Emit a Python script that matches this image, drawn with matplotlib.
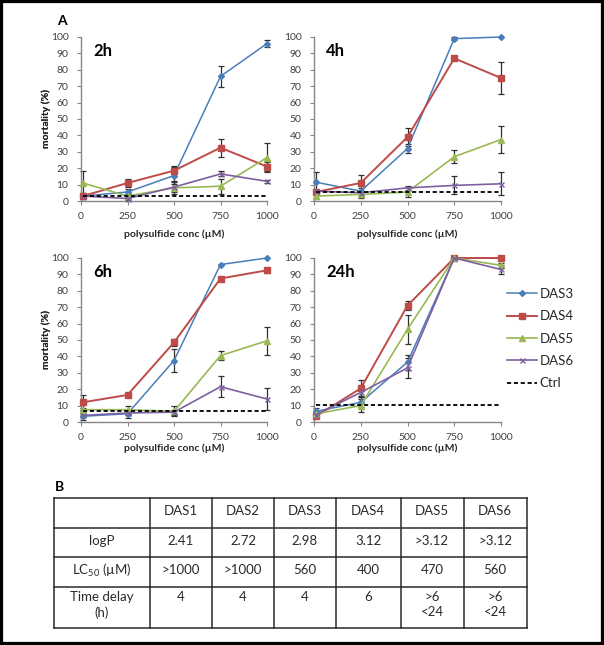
import numpy as np
import matplotlib
matplotlib.use('Agg')
from matplotlib import pyplot as plt
from matplotlib.lines import Line2D

plt.rcParams['font.family'] = ['Lato', 'DejaVu Sans']
plt.rcParams['mathtext.fontset'] = 'custom'
plt.rcParams['mathtext.rm'] = 'Lato'
plt.rcParams['mathtext.default'] = 'regular'

# ---- data (panel A) ----
conc = [10, 250, 500, 750, 1000]
series = ['DAS3', 'DAS4', 'DAS5', 'DAS6']
panels = ['2h', '4h', '6h', '24h']

mort_2h = {'DAS3': [3, 5.5, 15.5, 76, 96],
           'DAS4': [3, 11, 18.5, 32.5, 21],
           'DAS5': [11, 3, 8, 9, 26.5],
           'DAS6': [3, 1.5, 8.5, 16.5, 12]}
err_2h = {'DAS3': [1, 2, 5, 6.5, 2],
          'DAS4': [2, 2.5, 3, 5.5, 2.5],
          'DAS5': [7, 1, 4, 4.5, 9],
          'DAS6': [1.5, 1, 3, 1.5, 1]}

mort_4h = {'DAS3': [11.5, 6, 32, 99, 100],
           'DAS4': [5.5, 11, 39, 87, 75],
           'DAS5': [3, 4, 5.5, 27, 37.5],
           'DAS6': [6, 5, 8, 9.5, 10.5]}
err_4h = {'DAS3': [6, 2, 2.5, 1, 0],
          'DAS4': [1.5, 5, 5.5, 1, 10],
          'DAS5': [1.5, 2, 3, 4, 8],
          'DAS6': [1, 1, 1, 5.5, 7]}

mort_6h = {'DAS3': [3.5, 5, 37.5, 96, 100],
           'DAS4': [12, 16.5, 48.5, 87.5, 92.5],
           'DAS5': [7.5, 7.5, 6.5, 40.5, 49.5],
           'DAS6': [4, 5.5, 6, 21.5, 14]}
err_6h = {'DAS3': [2, 2.5, 7, 0.5, 0],
          'DAS4': [4.5, 0.5, 2, 0.5, 1.5],
          'DAS5': [1, 2.5, 3, 2.5, 8.5],
          'DAS6': [1, 1, 1.5, 6.5, 6.5]}

mort_24h = {'DAS3': [6.5, 12, 36.5, 100, 100],
            'DAS4': [3.5, 20.5, 71, 100, 100],
            'DAS5': [5, 10, 56.5, 100, 95.5],
            'DAS6': [4.5, 18, 33, 100, 93]}
err_24h = {'DAS3': [2, 3, 4.5, 0, 0],
           'DAS4': [1, 5, 2.5, 0, 0],
           'DAS5': [1, 4, 9, 0, 1.5],
           'DAS6': [1, 2, 6, 0, 2.5]}

ctrl = {'2h': 3, '4h': 5.5, '6h': 7, '24h': 10.5}

# ---- data (panel B) ----
col_names = ['DAS1', 'DAS2', 'DAS3', 'DAS4', 'DAS5', 'DAS6']
row_names = ['logP', 'LC$_{50}$ (\u00b5M)', 'Time delay\n(h)']
logp = ['2.41', '2.72', '2.98', '3.12', '>3.12', '>3.12']
lc50 = ['>1000', '>1000', '560', '400', '470', '560']
delay = ['4', '4', '4', '6', '>6\n<24', '>6\n<24']

# ---- styles ----
colors = {'DAS3': '#4A7EBB', 'DAS4': '#BE4B48', 'DAS5': '#98B954', 'DAS6': '#7D60A0'}
markers = {'DAS3': 'D', 'DAS4': 's', 'DAS5': '^', 'DAS6': 'x'}
msizes = {'DAS3': 3.0, 'DAS4': 4.0, 'DAS5': 4.2, 'DAS6': 3.6}
lwidths = {'DAS3': 1.1, 'DAS4': 1.4, 'DAS5': 1.2, 'DAS6': 1.2}

W, H = 604, 645
fig = plt.figure(figsize=(W / 100, H / 100), dpi=100)


def px_axes(left, top, right, bottom):
    return fig.add_axes([left / W, 1 - bottom / H, (right - left) / W, (bottom - top) / H])


boxes = {'2h': (81, 37, 267, 201), '4h': (314, 37, 501, 201),
         '6h': (81, 258, 267, 422), '24h': (314, 258, 501, 422)}
xlab_off = {'2h': 33, '4h': 33, '6h': 26, '24h': 26}
data = {'2h': (mort_2h, err_2h), '4h': (mort_4h, err_4h),
        '6h': (mort_6h, err_6h), '24h': (mort_24h, err_24h)}

gray = '#868686'
handles = []
for p in panels:
    l, t, r, b = boxes[p]
    ax = px_axes(l, t, r, b)
    mort, err = data[p]
    x = np.array(conc, dtype=float)
    for s in series:
        y = np.array(mort[s], dtype=float)
        e = np.array(err[s], dtype=float)
        m = e > 0
        ax.errorbar(x[m], y[m], yerr=e[m], fmt='none', ecolor='#303030',
                    elinewidth=0.9, capsize=2.2, capthick=0.9, zorder=2, clip_on=False)
        h, = ax.plot(x, y, color=colors[s], marker=markers[s], ms=msizes[s],
                     lw=lwidths[s], mew=1.0, zorder=3, clip_on=False, label=s)
        if p == panels[0]:
            handles.append(h)
    hc, = ax.plot(x, [ctrl[p]] * len(x), color='black', ls=(0, (2.3, 1.5)),
                  lw=1.3, zorder=4, clip_on=False, label='Ctrl')
    if p == panels[0]:
        handles.append(hc)

    ax.set_xlim(0, 1000)
    ax.set_ylim(0, 100)
    ax.set_xticks([0, 250, 500, 750, 1000])
    ax.set_yticks(range(0, 101, 10))
    for sp in ['top', 'right']:
        ax.spines[sp].set_visible(False)
    for sp in ['left', 'bottom']:
        ax.spines[sp].set_color(gray)
        ax.spines[sp].set_linewidth(1.0)
    ax.tick_params(axis='both', colors=gray, labelcolor='#404040', labelsize=7.5,
                   length=3, width=0.8, direction='out')
    ax.tick_params(axis='x', pad=5)
    ax.tick_params(axis='y', pad=6)

    ax.set_xlabel('polysulfide conc (\u00b5M)', fontsize=7.5, fontweight='bold', color='#262626')
    ax.xaxis.label.set_va('center')
    ax.xaxis.set_label_coords(0.5, -xlab_off[p] / (b - t))
    ax.set_ylabel('mortality (%)', fontsize=7.5, fontweight='bold', color='#262626')
    ax.yaxis.label.set_va('center')
    ax.yaxis.set_label_coords((46 - l) / (r - l), 0.5)

    ax.text(0.065, 0.915, p, transform=ax.transAxes, fontsize=12, fontweight='bold',
            ha='left', va='center')

fig.legend(handles=handles, labels=series + ['Ctrl'], loc='upper left',
           bbox_to_anchor=(507 / W, 1 - 288 / H), frameon=False, fontsize=9.5,
           handlelength=2.3, handletextpad=0.15, labelspacing=0.78,
           borderpad=0, borderaxespad=0, labelcolor='#262626')

# ---- overlay axes in pixel coords for labels and table ----
ov = fig.add_axes([0, 0, 1, 1])
ov.set_xlim(0, W)
ov.set_ylim(H, 0)
ov.axis('off')

ov.text(62, 21, 'A', fontsize=10, fontweight='bold', ha='center', va='center')
ov.text(60, 487, 'B', fontsize=10, fontweight='bold', ha='center', va='center')

col_edges = [54, 149.5, 212, 274, 336, 400.5, 463.5, 527]
row_edges = [497.7, 528.3, 557.3, 586.7, 628.3]

for xe in col_edges:
    ov.add_line(Line2D([xe, xe], [row_edges[0], row_edges[-1]], color='#2a2a2a', lw=1.1))
for ye in row_edges:
    ov.add_line(Line2D([col_edges[0], col_edges[-1]], [ye, ye], color='#2a2a2a', lw=1.1))

tfs = 9.5
tcol = '#2a2a2a'
cx = [(col_edges[i] + col_edges[i + 1]) / 2 for i in range(len(col_edges) - 1)]
ry = [(row_edges[i] + row_edges[i + 1]) / 2 - 2 for i in range(len(row_edges) - 1)]

for j, name in enumerate(col_names):
    ov.text(cx[j + 1], ry[0], name, fontsize=tfs, ha='center', va='center', color=tcol)

table_rows = [logp, lc50, delay]
for i, (rname, vals) in enumerate(zip(row_names, table_rows)):
    if i < 2:
        ov.text(cx[0], ry[i + 1], rname, fontsize=tfs, ha='center', va='center', color=tcol)
        for j, v in enumerate(vals):
            ov.text(cx[j + 1], ry[i + 1], v, fontsize=tfs, ha='center', va='center', color=tcol)
    else:
        ytop = row_edges[3] + 4
        ov.text(cx[0], ytop, rname, fontsize=tfs, ha='center', va='top',
                linespacing=1.35, color=tcol)
        for j, v in enumerate(vals):
            ov.text(cx[j + 1], ytop, v, fontsize=tfs, ha='center', va='top',
                    linespacing=1.35, color=tcol)

# black frame round the picture
fig.patches.append(plt.Rectangle((0, 0), 1, 1, transform=fig.transFigure, fill=False,
                                 edgecolor='black', lw=4.5))

fig.savefig('out.png', dpi=100)
